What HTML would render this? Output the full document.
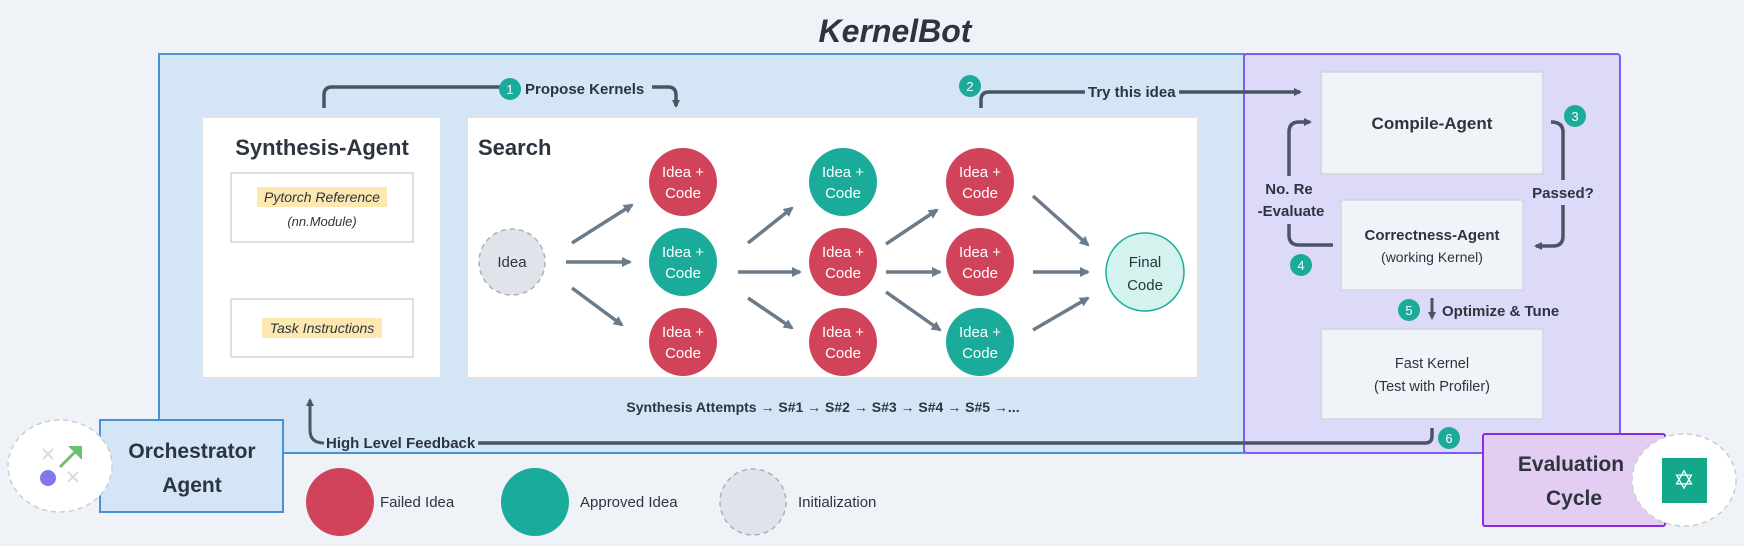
<!DOCTYPE html>
<html><head><meta charset="utf-8"><style>
html,body{margin:0;padding:0;background:#eff3f7;}
svg{display:block;font-family:"Liberation Sans","DejaVu Sans",sans-serif;}
</style></head><body>
<svg width="1744" height="546" viewBox="0 0 1744 546" xmlns="http://www.w3.org/2000/svg">
<defs>
<marker id="ah" markerWidth="8" markerHeight="8" refX="6" refY="4" orient="auto" markerUnits="userSpaceOnUse"><path d="M0,0 L8,4 L0,8 Z" fill="#4a5563"/></marker>
<marker id="ag" markerWidth="10" markerHeight="10" refX="8" refY="5" orient="auto" markerUnits="userSpaceOnUse"><path d="M0,0 L10,5 L0,10 Z" fill="#6b7b8a"/></marker>
</defs>
<rect width="1744" height="546" fill="#eff3f7"/>
<text x="895" y="42" text-anchor="middle" font-size="32" font-weight="bold" font-style="italic" fill="#2c3440">KernelBot</text>
<rect x="159" y="54" width="1085" height="399" fill="#d4e5f5" stroke="#4a90d9" stroke-width="2"/>
<rect x="1244" y="54" width="376" height="399" rx="3" fill="#dcdaf8" stroke="#7b5cf0" stroke-width="2"/>
<rect x="202" y="117" width="239" height="261" fill="#fff" stroke="#dde3ea" stroke-width="2"/>
<text x="322" y="155" text-anchor="middle" font-size="22" font-weight="bold" fill="#2c3440">Synthesis-Agent</text>
<rect x="231" y="173" width="182" height="69" fill="#fff" stroke="#d0d6de" stroke-width="1.5"/>
<rect x="257" y="187" width="130" height="20" fill="#fde8b0"/>
<text x="322" y="202" text-anchor="middle" font-size="14" font-style="italic" fill="#2c3440">Pytorch Reference</text>
<text x="322" y="226" text-anchor="middle" font-size="13" font-style="italic" fill="#2c3440">(nn.Module)</text>
<rect x="231" y="299" width="182" height="58" fill="#fff" stroke="#d0d6de" stroke-width="1.5"/>
<rect x="262" y="318" width="120" height="20" fill="#fde8b0"/>
<text x="322" y="333" text-anchor="middle" font-size="14" font-style="italic" fill="#2c3440">Task Instructions</text>
<rect x="467" y="117" width="731" height="261" fill="#fff" stroke="#dde3ea" stroke-width="2"/>
<text x="478" y="155" font-size="22" font-weight="bold" fill="#2c3440">Search</text>
<g stroke="#6b7b8a" stroke-width="3.5" marker-end="url(#ag)">
<line x1="572" y1="243" x2="632" y2="205"/>
<line x1="566" y1="262" x2="630" y2="262"/>
<line x1="572" y1="288" x2="622" y2="325"/>
<line x1="748" y1="243" x2="792" y2="208"/>
<line x1="738" y1="272" x2="800" y2="272"/>
<line x1="748" y1="298" x2="792" y2="328"/>
<line x1="886" y1="244" x2="937" y2="210"/>
<line x1="886" y1="272" x2="940" y2="272"/>
<line x1="886" y1="292" x2="940" y2="330"/>
<line x1="1033" y1="196" x2="1088" y2="245"/>
<line x1="1033" y1="272" x2="1088" y2="272"/>
<line x1="1033" y1="330" x2="1088" y2="298"/>
</g>
<ellipse cx="512" cy="262" rx="33" ry="33" fill="#e0e3ea" stroke="#a8b0bb" stroke-width="1.5" stroke-dasharray="5,4"/>
<text x="512" y="267" text-anchor="middle" font-size="15" fill="#2c3440">Idea</text>
<g font-size="15" text-anchor="middle" fill="#fff">
<circle cx="683" cy="182" r="34" fill="#d0435a"/><text x="683" y="177">Idea +</text><text x="683" y="198">Code</text>
<circle cx="683" cy="262" r="34" fill="#1aab9b"/><text x="683" y="257">Idea +</text><text x="683" y="278">Code</text>
<circle cx="683" cy="342" r="34" fill="#d0435a"/><text x="683" y="337">Idea +</text><text x="683" y="358">Code</text>
<circle cx="843" cy="182" r="34" fill="#1aab9b"/><text x="843" y="177">Idea +</text><text x="843" y="198">Code</text>
<circle cx="843" cy="262" r="34" fill="#d0435a"/><text x="843" y="257">Idea +</text><text x="843" y="278">Code</text>
<circle cx="843" cy="342" r="34" fill="#d0435a"/><text x="843" y="337">Idea +</text><text x="843" y="358">Code</text>
<circle cx="980" cy="182" r="34" fill="#d0435a"/><text x="980" y="177">Idea +</text><text x="980" y="198">Code</text>
<circle cx="980" cy="262" r="34" fill="#d0435a"/><text x="980" y="257">Idea +</text><text x="980" y="278">Code</text>
<circle cx="980" cy="342" r="34" fill="#1aab9b"/><text x="980" y="337">Idea +</text><text x="980" y="358">Code</text>
</g>
<circle cx="1145" cy="272" r="39" fill="#d4f3ee" stroke="#1aab9b" stroke-width="1.5"/>
<text x="1145" y="267" text-anchor="middle" font-size="15" fill="#2c3440">Final</text>
<text x="1145" y="290" text-anchor="middle" font-size="15" fill="#2c3440">Code</text>
<text x="823" y="412" text-anchor="middle" font-size="14" font-weight="bold" fill="#2c3440">Synthesis Attempts →  S#1 → S#2 → S#3 → S#4 → S#5 →...</text>
<path d="M324,108 V95 Q324,87 332,87 H668 Q676,87 676,95 V106" fill="none" stroke="#4a5563" stroke-width="3.5" marker-end="url(#ah)"/>
<rect x="500" y="78" width="152" height="20" fill="#d4e5f5"/>
<text x="525" y="94" font-size="15" font-weight="bold" fill="#2c3440">Propose Kernels</text>
<circle cx="510" cy="89" r="11" fill="#1aab9b"/><text x="510" y="94" text-anchor="middle" font-size="13" fill="#fff">1</text>
<path d="M981,108 V100 Q981,92 989,92 H1300" fill="none" stroke="#4a5563" stroke-width="3.5" marker-end="url(#ah)"/>
<rect x="1085" y="82" width="94" height="20" fill="#d4e5f5"/>
<text x="1088" y="97" font-size="15" font-weight="bold" fill="#2c3440">Try this idea</text>
<circle cx="970" cy="86" r="11" fill="#1aab9b"/><text x="970" y="91" text-anchor="middle" font-size="13" fill="#fff">2</text>
<rect x="1321" y="72" width="222" height="102" fill="#f0f3f7" stroke="#d0d6de" stroke-width="1.5"/>
<text x="1432" y="129" text-anchor="middle" font-size="17" font-weight="bold" fill="#2c3440">Compile-Agent</text>
<rect x="1341" y="200" width="182" height="90" fill="#f0f3f7" stroke="#d0d6de" stroke-width="1.5"/>
<text x="1432" y="240" text-anchor="middle" font-size="15" font-weight="bold" fill="#2c3440">Correctness-Agent</text>
<text x="1432" y="262" text-anchor="middle" font-size="14" fill="#2c3440">(working Kernel)</text>
<rect x="1321" y="329" width="222" height="90" fill="#f0f3f7" stroke="#d0d6de" stroke-width="1.5"/>
<text x="1432" y="368" text-anchor="middle" font-size="14.5" fill="#2c3440">Fast Kernel</text>
<text x="1432" y="391" text-anchor="middle" font-size="14.5" fill="#2c3440">(Test with Profiler)</text>
<path d="M1551,122 Q1563,122 1563,132 V180 M1563,205 V236 Q1563,246 1553,246 H1536" fill="none" stroke="#4a5563" stroke-width="3.5" marker-end="url(#ah)"/>
<text x="1563" y="198" text-anchor="middle" font-size="15" font-weight="bold" fill="#2c3440">Passed?</text>
<circle cx="1575" cy="116" r="11" fill="#1aab9b"/><text x="1575" y="121" text-anchor="middle" font-size="13" fill="#fff">3</text>
<path d="M1333,245 H1299 Q1289,245 1289,235 V224 M1289,176 V132 Q1289,122 1299,122 H1310" fill="none" stroke="#4a5563" stroke-width="3.5" marker-end="url(#ah)"/>
<text x="1289" y="194" text-anchor="middle" font-size="15" font-weight="bold" fill="#2c3440">No. Re</text>
<text x="1291" y="216" text-anchor="middle" font-size="15" font-weight="bold" fill="#2c3440">-Evaluate</text>
<circle cx="1301" cy="265" r="11" fill="#1aab9b"/><text x="1301" y="270" text-anchor="middle" font-size="13" fill="#fff">4</text>
<line x1="1432" y1="298" x2="1432" y2="318" stroke="#4a5563" stroke-width="3" marker-end="url(#ah)"/>
<text x="1442" y="316" font-size="15" font-weight="bold" fill="#2c3440">Optimize &amp; Tune</text>
<circle cx="1409" cy="310" r="11" fill="#1aab9b"/><text x="1409" y="315" text-anchor="middle" font-size="13" fill="#fff">5</text>
<path d="M1432,428 V436 Q1432,443 1425,443 H478" fill="none" stroke="#4a5563" stroke-width="3.5"/>
<path d="M324,443 Q310,443 310,430 V400" fill="none" stroke="#4a5563" stroke-width="3" marker-end="url(#ah)"/>
<text x="326" y="448" font-size="15" font-weight="bold" fill="#2c3440">High Level Feedback</text>
<circle cx="1449" cy="438" r="11" fill="#1aab9b"/><text x="1449" y="443" text-anchor="middle" font-size="13" fill="#fff">6</text>
<rect x="100" y="420" width="183" height="92" fill="#d4e5f5" stroke="#4a90d9" stroke-width="2"/>
<text x="192" y="458" text-anchor="middle" font-size="21" font-weight="bold" fill="#2c3440">Orchestrator</text>
<text x="192" y="492" text-anchor="middle" font-size="21" font-weight="bold" fill="#2c3440">Agent</text>
<ellipse cx="60" cy="466" rx="52" ry="46" fill="#fff" stroke="#c8ced6" stroke-width="1.5" stroke-dasharray="5,4"/>
<g stroke="#d8dce2" stroke-width="2"><line x1="43" y1="449" x2="53" y2="459"/><line x1="53" y1="449" x2="43" y2="459"/><line x1="68" y1="472" x2="78" y2="482"/><line x1="78" y1="472" x2="68" y2="482"/></g>
<line x1="60" y1="467" x2="76" y2="451" stroke="#6cc06c" stroke-width="3"/><path d="M68,446 L82,446 L82,460 Z" fill="#6cc06c"/>
<circle cx="48" cy="478" r="8" fill="#7f77ea"/>
<rect x="1483" y="434" width="182" height="92" rx="2" fill="#e3cdf2" stroke="#8a2be2" stroke-width="2"/>
<text x="1571" y="471" text-anchor="middle" font-size="21" font-weight="bold" fill="#2c3440">Evaluation</text>
<text x="1574" y="505" text-anchor="middle" font-size="21" font-weight="bold" fill="#2c3440">Cycle</text>
<ellipse cx="1684" cy="480" rx="52" ry="46" fill="#fff" stroke="#c8ced6" stroke-width="1.5" stroke-dasharray="5,4"/>
<rect x="1662" y="458" width="45" height="45" fill="#14a88a"/>
<text x="1684" y="489" text-anchor="middle" font-size="26" fill="#fff">✡</text>
<circle cx="340" cy="502" r="34" fill="#d0435a"/>
<text x="380" y="507" font-size="15" fill="#2c3440">Failed Idea</text>
<circle cx="535" cy="502" r="34" fill="#1aab9b"/>
<text x="580" y="507" font-size="15" fill="#2c3440">Approved Idea</text>
<circle cx="753" cy="502" r="33" fill="#e0e3ea" stroke="#a8b0bb" stroke-width="1.5" stroke-dasharray="5,4"/>
<text x="798" y="507" font-size="15" fill="#2c3440">Initialization</text>
</svg>
</body></html>
